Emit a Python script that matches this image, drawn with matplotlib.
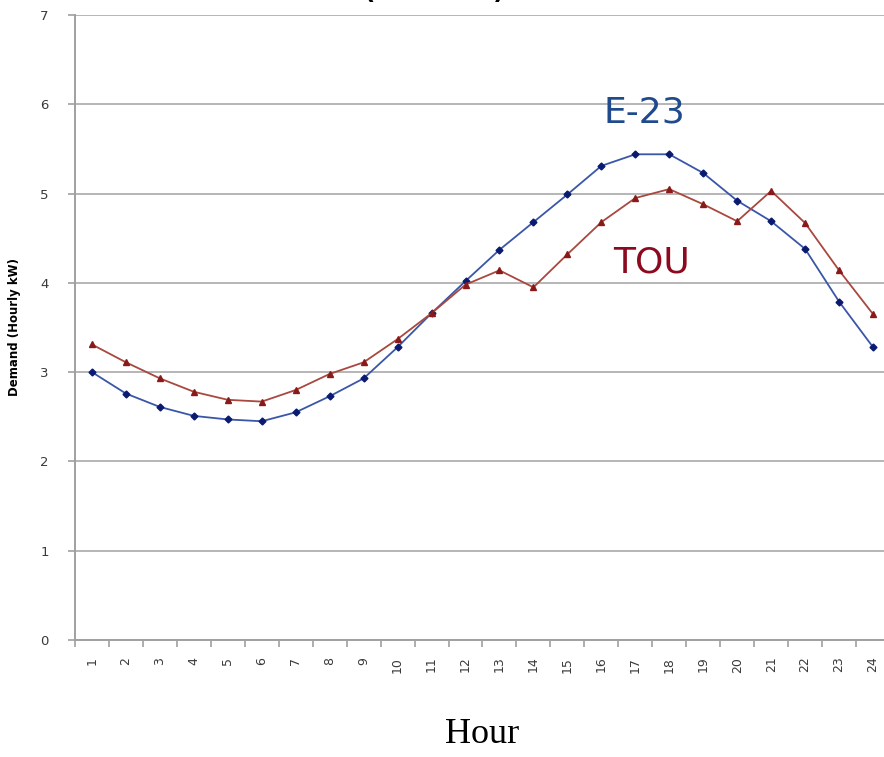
import matplotlib
matplotlib.use("Agg")
import matplotlib.pyplot as plt
from matplotlib.ticker import FixedLocator

hours = list(range(1, 25))
hour_labels = [str(h) for h in hours]
e23 = [3.00, 2.76, 2.61, 2.51, 2.47, 2.45, 2.55, 2.73, 2.93, 3.28, 3.66, 4.02,
       4.37, 4.68, 4.99, 5.31, 5.44, 5.44, 5.23, 4.92, 4.69, 4.38, 3.79, 3.28]
tou = [3.31, 3.11, 2.93, 2.78, 2.69, 2.67, 2.80, 2.98, 3.11, 3.37, 3.66, 3.98,
       4.14, 3.95, 4.32, 4.68, 4.95, 5.05, 4.88, 4.69, 5.03, 4.67, 4.14, 3.65]
y_ticks = [0, 1, 2, 3, 4, 5, 6, 7]

fig = plt.figure(figsize=(8.84, 7.57), dpi=100)
ax = fig.add_axes([75 / 884, 1 - 640 / 757, 815 / 884, 625 / 757])

ax.plot(hours, e23, color="#3a56a8", lw=1.3, marker="D", ms=3.5,
        mfc="#0a1a70", mec="#0a1a70", zorder=3)
ax.plot(hours, tou, color="#a8483f", lw=1.3, marker="^", ms=5,
        mfc="#8a1a1a", mec="#8a1a1a", zorder=3)

ax.set_xlim(0.5, 24.5)
ax.set_ylim(0, 7)
ax.set_yticks(y_ticks)
ax.set_yticklabels([str(v) for v in y_ticks])
ax.yaxis.grid(True, color="#b0b0b0", lw=1.3)
ax.set_axisbelow(True)

ax.set_xticks(hours)
ax.set_xticklabels(hour_labels, rotation=90)
ax.xaxis.set_minor_locator(FixedLocator([h + 0.5 for h in range(0, 25)]))
ax.tick_params(axis="x", which="major", length=0, pad=12, labelsize=9,
               labelcolor="#3a3a3a")
ax.tick_params(axis="x", which="minor", length=5, color="#a0a0a0", width=1.2)
ax.tick_params(axis="y", length=5, color="#a0a0a0", width=1.2, pad=14,
               labelsize=9.5, labelcolor="#3a3a3a")

for side in ("top", "right"):
    ax.spines[side].set_visible(False)
for side in ("left", "bottom"):
    ax.spines[side].set_color("#a0a0a0")
    ax.spines[side].set_linewidth(1.4)

ax.set_ylabel("Demand (Hourly kW)", fontsize=8.5, fontweight="bold", labelpad=14)
ax.set_xlabel("Hour", family="Liberation Serif", fontsize=26, labelpad=33)

ax.text(16.05, 5.80, "E-23", color="#1f4a8c", fontsize=26, ha="left", va="baseline")
ax.text(16.34, 4.12, "TOU", color="#8c0a1e", fontsize=26, ha="left", va="baseline")

fig.text(505 / 884, 1 + 1.5 / 757, "Net Demand (Summer)", fontsize=18,
         fontweight="bold", ha="right", va="baseline")

fig.savefig("out.png", dpi=100, facecolor="white")
